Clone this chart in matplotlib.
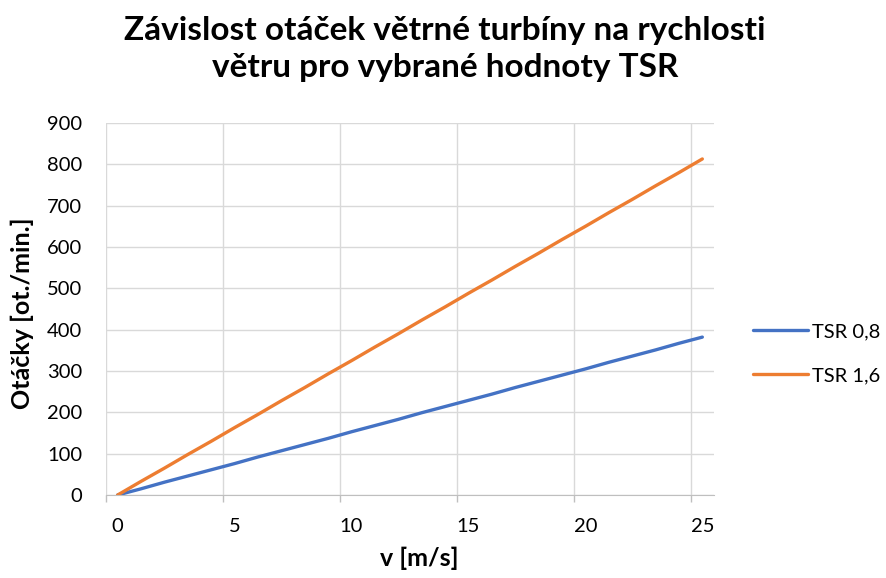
import matplotlib.pyplot as plt

plt.rcParams['font.family'] = ['Lato', 'DejaVu Sans']

# rychlost větru [m/s]
v = list(range(26))
# otáčky [ot./min.]
tsr_08 = [0, 15, 31, 46, 61, 76, 92, 107, 122, 137, 153, 168, 183,
          199, 214, 229, 244, 260, 275, 290, 305, 321, 336, 351, 367, 382]
tsr_16 = [0, 33, 65, 98, 130, 163, 195, 228, 260, 293, 325, 358, 390,
          423, 455, 488, 520, 553, 585, 618, 650, 683, 715, 748, 780, 813]
x_labels = [0, 5, 10, 15, 20, 25]
y_ticks = list(range(0, 901, 100))

fig = plt.figure(figsize=(8.86, 5.78), dpi=100)
ax = fig.add_axes([0.1196, 0.1436, 0.6863, 0.6436])

ax.plot(v, tsr_08, color="#4472C4", lw=2.4, label="TSR 0,8", solid_capstyle="round")
ax.plot(v, tsr_16, color="#ED7D31", lw=2.4, label="TSR 1,6", solid_capstyle="round")

ax.set_xlim(-0.5, 25.5)
ax.set_ylim(0, 900)

# category-style axis: gridlines between categories, labels on categories
grid_x = [x - 0.5 for x in x_labels]
for gx in grid_x:
    ax.axvline(gx, color="#d9d9d9", lw=1, zorder=0)
ax.set_xticks(grid_x)
ax.set_xticklabels([])
ax.tick_params(axis="x", length=5, color="#bfbfbf", width=1)
for xl in x_labels:
    ax.text(xl, -0.062, str(xl), transform=ax.get_xaxis_transform(),
            ha="center", va="top", fontsize=14.5)

ax.set_yticks(y_ticks)
ax.tick_params(axis="y", length=0, labelsize=14.5, pad=17)
ax.yaxis.grid(True, color="#d9d9d9", lw=1)
ax.set_axisbelow(True)
for s in ["top", "right", "left"]:
    ax.spines[s].set_visible(False)
ax.spines["bottom"].set_color("#bfbfbf")

ax.set_xlabel("v [m/s]", fontsize=18, fontweight="bold")
ax.xaxis.set_label_coords(0.515, -0.14)
ax.set_ylabel("Otáčky [ot./min.]", fontsize=18, fontweight="bold")
ax.yaxis.set_label_coords(-0.118, 0.49)

fig.suptitle("Závislost otáček větrné turbíny na rychlosti\nvětru pro vybrané hodnoty TSR",
             x=0.502, y=0.973, fontsize=24, fontweight="bold", linespacing=1.35)

ax.legend(loc="center left", bbox_to_anchor=(1.064, 0.38), frameon=False,
          borderpad=0, borderaxespad=0,
          fontsize=14.5, handlelength=2.73, handletextpad=0.2, labelspacing=1.35)

fig.savefig("out.png", dpi=100)
